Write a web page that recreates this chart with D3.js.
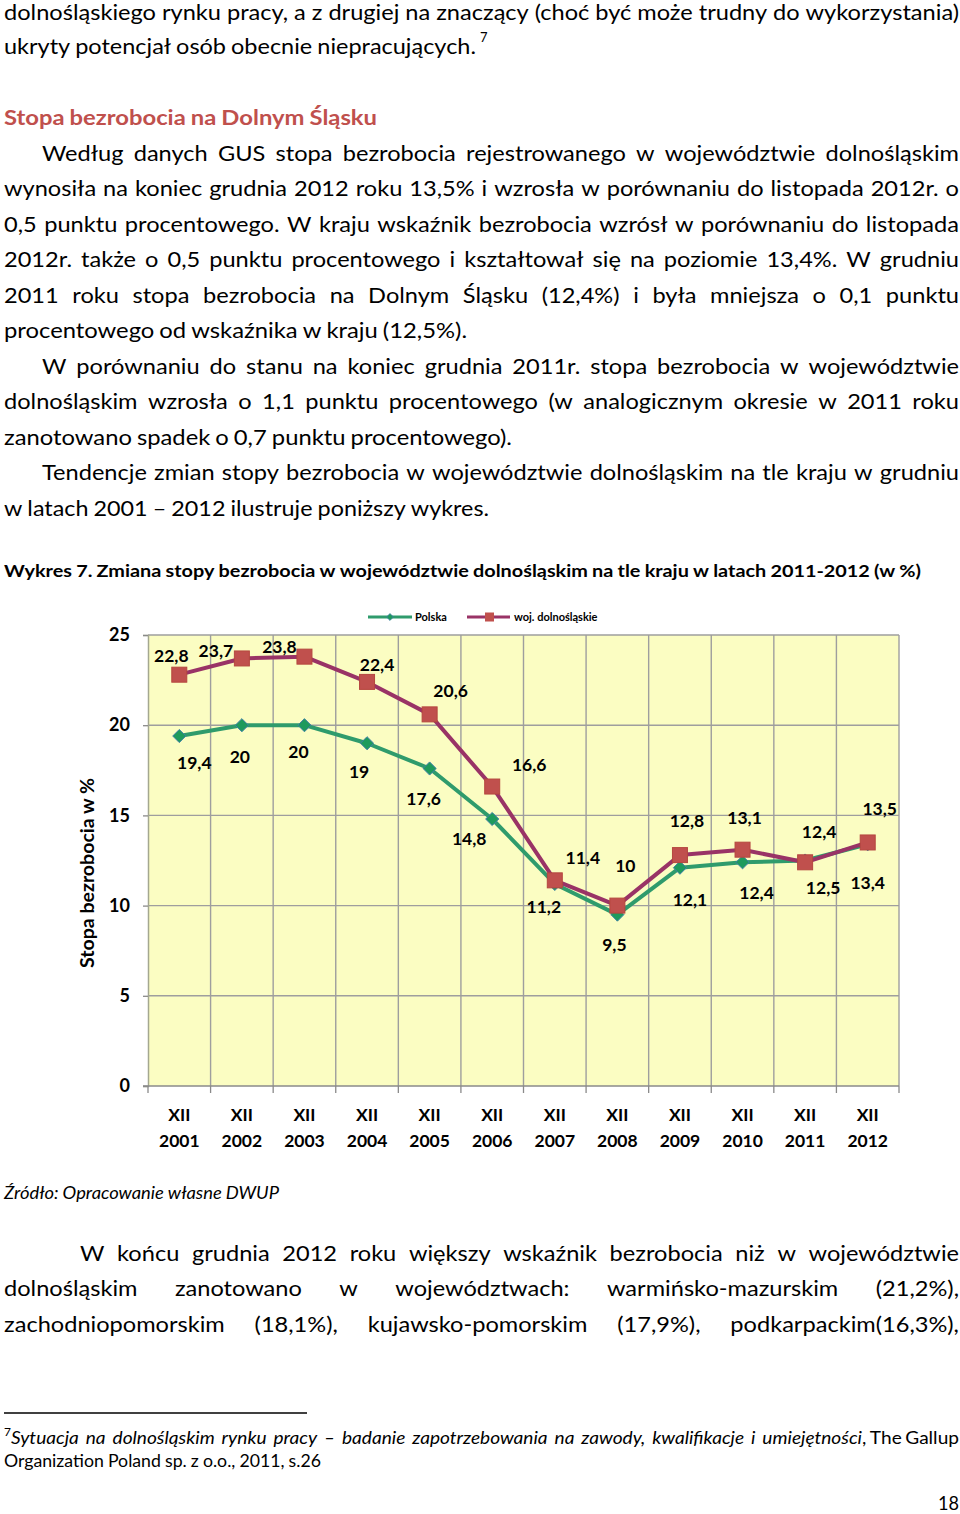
<!DOCTYPE html>
<html><head><meta charset="utf-8">
<script src="https://cdn.jsdelivr.net/npm/d3@7/dist/d3.min.js"></script>
<style>
html,body{margin:0;padding:0;background:#fff;}
svg{display:block;}
</style>
</head><body>
<svg id="page" width="960" height="1514"></svg>
<script>
// ---------------- DATA ----------------
const categories = ["XII 2001","XII 2002","XII 2003","XII 2004","XII 2005","XII 2006","XII 2007","XII 2008","XII 2009","XII 2010","XII 2011","XII 2012"];
const polska = [19.4, 20, 20, 19, 17.6, 14.8, 11.2, 9.5, 12.1, 12.4, 12.5, 13.4];
const dolnoslaskie = [22.8, 23.7, 23.8, 22.4, 20.6, 16.6, 11.4, 10, 12.8, 13.1, 12.4, 13.5];
const yTicks = [0, 5, 10, 15, 20, 25];
const seriesNames = ["Polska", "woj. dolnośląskie"];
const yAxisTitle = "Stopa bezrobocia w %";

// label placement (layout, offsets of label centre from its point)
const polskaLabelOffsets = [[15,27],[-2,32],[-6,27],[-8,29],[-6,30],[-23,20],[-11,23],[-3,30],[10,32],[14,31],[18,27],[0,39]];
const dolnyLabelOffsets = [[-8,-19],[-26,-8],[-25,-10],[10,-17],[21,-24],[37,-22],[28,-22],[8,-40],[7,-34],[2,-32],[14,-30],[12,-34]];

// ---------------- PAGE TEXT ----------------
const FONT = "Lato, 'Open Sans', 'DejaVu Sans', sans-serif";
const svg = d3.select("#page");
svg.append("rect").attr("width",960).attr("height",1514).attr("fill","#fff");
const textG = svg.append("g");

function mkText(w, y, o) {
  return textG.append("text")
    .attr("y", y).attr("font-family", FONT).attr("font-size", o.size || 21)
    .attr("font-weight", o.weight || "normal").attr("font-style", o.style || "normal")
    .attr("fill", o.fill || "#000").text(w);
}
function naturalRatio(str, width, o) {
  const words = str.split(" ").filter(w => w.length);
  const size = o.size || 21;
  const t = mkText("", -100, o);
  let sum = 0;
  words.forEach(w => { t.text(w); sum += t.node().getComputedTextLength(); });
  t.remove();
  return (width - (words.length - 1) * size * 0.24) / sum;
}
// horizontal stretch that makes this font match the original's word widths
const kGlobal = d3.mean([
  naturalRatio("ukryty potencjał osób obecnie niepracujących.", 472, {}),
  naturalRatio("procentowego od wskaźnika w kraju (12,5%).", 463, {}),
  naturalRatio("zanotowano spadek o 0,7 punktu procentowego).", 508, {}),
  naturalRatio("w latach 2001 – 2012 ilustruje poniższy wykres.", 485, {})
]);

function fitLine(str, x0, x1, y, opts = {}) {
  const size = opts.size || 21, last = !!opts.last;
  const words = str.split(" ").filter(w => w.length);
  const nodes = words.map(w => mkText(w, y, opts));
  const widths = nodes.map(n => n.node().getComputedTextLength());
  const sum = d3.sum(widths);
  const n = words.length;
  const total = x1 - x0;
  const spaceW = size * 0.24;
  let k, gap;
  if (last || n === 1) {
    k = (total - (n - 1) * spaceW) / sum;
    gap = spaceW;
  } else {
    const minGap = spaceW * 0.85;
    k = Math.min(kGlobal, (total - (n - 1) * minGap) / sum);
    gap = (total - sum * k) / (n - 1);
  }
  let x = x0;
  nodes.forEach((nd, i) => {
    nd.attr("x", x);
    if (Math.abs(k - 1) > 0.002) nd.attr("textLength", widths[i] * k).attr("lengthAdjust", "spacingAndGlyphs");
    x += widths[i] * k + gap;
  });
}

// top paragraph
fitLine("dolnośląskiego rynku pracy, a z drugiej na znaczący (choć być może trudny do wykorzystania)", 4, 959, 19.5);
fitLine("ukryty potencjał osób obecnie niepracujących.", 4, 476, 54, {last:true});
textG.append("text").attr("x", 480).attr("y", 42).attr("font-family", FONT).attr("font-size", 13).text("7");
fitLine("Stopa bezrobocia na Dolnym Śląsku", 4, 377, 125, {weight:"bold", fill:"#C0504D", last:true});

const lh = 35.5;
const para = [
  ["Według danych GUS stopa bezrobocia rejestrowanego w województwie dolnośląskim", 42, 959, false],
  ["wynosiła na koniec grudnia 2012 roku 13,5% i wzrosła w porównaniu do listopada 2012r. o", 4, 959, false],
  ["0,5 punktu procentowego. W kraju wskaźnik bezrobocia wzrósł w porównaniu do listopada", 4, 959, false],
  ["2012r. także o 0,5 punktu procentowego i kształtował się na poziomie 13,4%. W grudniu", 4, 959, false],
  ["2011 roku stopa bezrobocia na Dolnym Śląsku (12,4%) i była mniejsza o 0,1 punktu", 4, 959, false],
  ["procentowego od wskaźnika w kraju (12,5%).", 4, 467, true],
  ["W porównaniu do stanu na koniec grudnia 2011r. stopa bezrobocia w województwie", 42, 959, false],
  ["dolnośląskim wzrosła o 1,1 punktu procentowego (w analogicznym okresie w 2011 roku", 4, 959, false],
  ["zanotowano spadek o 0,7 punktu procentowego).", 4, 512, true],
  ["Tendencje zmian stopy bezrobocia w województwie dolnośląskim na tle kraju w grudniu", 42, 959, false],
  ["w latach 2001 – 2012 ilustruje poniższy wykres.", 4, 489, true]
];
para.forEach((p, i) => fitLine(p[0], p[1], p[2], 160.5 + i * lh, {last: p[3]}));

fitLine("Wykres 7. Zmiana stopy bezrobocia w województwie dolnośląskim na tle kraju w latach 2011-2012 (w %)", 4, 921, 577, {weight:"bold", size:17.5, last:true});

fitLine("Źródło: Opracowanie własne DWUP", 4, 279, 1199, {style:"italic", size:17, last:true});

fitLine("W końcu grudnia 2012 roku większy wskaźnik bezrobocia niż w województwie", 80, 959, 1261);
fitLine("dolnośląskim zanotowano w województwach: warmińsko-mazurskim (21,2%),", 4, 959, 1296);
fitLine("zachodniopomorskim (18,1%), kujawsko-pomorskim (17,9%), podkarpackim(16,3%),", 4, 959, 1332);

textG.append("line").attr("x1", 4).attr("x2", 307).attr("y1", 1413).attr("y2", 1413).attr("stroke", "#000").attr("stroke-width", 1.5);
textG.append("text").attr("x", 4).attr("y", 1436).attr("font-family", FONT).attr("font-size", 12).text("7");
fitLine("Sytuacja na dolnośląskim rynku pracy – badanie zapotrzebowania na zawody, kwalifikacje i umiejętności", 11, 862, 1444, {style:"italic", size:17});
fitLine(", The Gallup", 862, 959, 1444, {size:17});
fitLine("Organization Poland sp. z o.o., 2011, s.26", 4, 321, 1467, {size:17, last:true});
fitLine("18", 938, 959, 1510, {size:20, last:true});

// ---------------- CHART ----------------
const plot = {left:148, right:899, top:635, bottom:1086};
const x = d3.scaleBand().domain(categories).range([plot.left, plot.right]).padding(0);
const y = d3.scaleLinear().domain([0, 25]).range([plot.bottom, plot.top]);
const cx = d => x(d) + x.bandwidth() / 2;
const fmt = v => String(v).replace(".", ",");

const chart = svg.append("g");
chart.append("rect").attr("x", plot.left).attr("y", plot.top)
  .attr("width", plot.right - plot.left).attr("height", plot.bottom - plot.top).attr("fill", "#FBFDC2");

const gridColor = "#9E9E9E";
chart.append("g").selectAll("line").data(yTicks.filter(t => t > 0)).join("line")
  .attr("x1", plot.left).attr("x2", plot.right).attr("y1", d => y(d)).attr("y2", d => y(d))
  .attr("stroke", gridColor).attr("stroke-width", 1.4);
const bounds = d3.range(categories.length + 1).map(i => x.range()[0] + i * x.step());
chart.append("g").selectAll("line").data(bounds.slice(1)).join("line")
  .attr("x1", d => d).attr("x2", d => d).attr("y1", plot.top).attr("y2", plot.bottom)
  .attr("stroke", gridColor).attr("stroke-width", 1.4);

// y axis
const yAxis = chart.append("g").attr("transform", `translate(${plot.left},0)`)
  .call(d3.axisLeft(y).tickValues(yTicks).tickSize(5).tickPadding(13).tickFormat(d3.format("d")));
yAxis.select(".domain").attr("stroke", "#A4A890").attr("stroke-width", 1.5);
yAxis.selectAll(".tick line").attr("stroke", "#8A8A8A").attr("stroke-width", 1.3);
yAxis.selectAll(".tick text").attr("font-family", FONT).attr("font-size", 18).attr("font-weight", "bold").attr("fill", "#000");

// x axis baseline + ticks
chart.append("line").attr("x1", plot.left - 5).attr("x2", plot.right).attr("y1", plot.bottom).attr("y2", plot.bottom)
  .attr("stroke", "#8A8A8A").attr("stroke-width", 1.5);
chart.append("g").selectAll("line").data(bounds).join("line")
  .attr("x1", d => d).attr("x2", d => d).attr("y1", plot.bottom).attr("y2", plot.bottom + 7)
  .attr("stroke", "#8A8A8A").attr("stroke-width", 1.3);
const xl = chart.append("g").selectAll("text").data(categories).join("text")
  .attr("text-anchor", "middle").attr("font-family", FONT).attr("font-size", 17.5).attr("font-weight", "bold");
xl.append("tspan").attr("x", d => cx(d)).attr("y", 1121).text(d => d.split(" ")[0]);
xl.append("tspan").attr("x", d => cx(d)).attr("y", 1147).text(d => d.split(" ")[1]);

// y axis title
chart.append("text").attr("transform", "translate(94,873) rotate(-90)")
  .attr("text-anchor", "middle").attr("font-family", FONT).attr("font-size", 18).attr("font-weight", "bold")
  .attr("textLength", 190).attr("lengthAdjust", "spacingAndGlyphs")
  .text(yAxisTitle);

// series
const green = "#2F9B6C", maroon = "#993366";
const line = d3.line().x((d, i) => cx(categories[i])).y(d => y(d));
chart.append("path").datum(polska).attr("d", line).attr("fill", "none").attr("stroke", green).attr("stroke-width", 4).attr("stroke-linejoin", "round");
chart.append("g").selectAll("path").data(polska).join("path")
  .attr("d", d3.symbol().type(d3.symbolDiamond2).size(110))
  .attr("transform", (d, i) => `translate(${cx(categories[i])},${y(d)})`)
  .attr("fill", "#1E9A5C").attr("stroke", "#3F7FA8").attr("stroke-width", 1);

chart.append("path").datum(dolnoslaskie).attr("d", line).attr("fill", "none").attr("stroke", maroon).attr("stroke-width", 4).attr("stroke-linejoin", "round");
chart.append("g").selectAll("rect").data(dolnoslaskie).join("rect")
  .attr("x", (d, i) => cx(categories[i]) - 7.5).attr("y", d => y(d) - 7.5)
  .attr("width", 15).attr("height", 15)
  .attr("fill", "#C0504D").attr("stroke", "#B5473F").attr("stroke-width", 1);

// data labels
const lblStyle = s => s.attr("text-anchor", "middle").attr("dy", "0.35em").attr("font-family", FONT)
  .attr("font-size", 17.5).attr("font-weight", "bold").attr("fill", "#000");
chart.append("g").selectAll("text").data(polska).join("text")
  .attr("x", (d, i) => cx(categories[i]) + polskaLabelOffsets[i][0])
  .attr("y", (d, i) => y(d) + polskaLabelOffsets[i][1]).call(lblStyle).text(fmt);
chart.append("g").selectAll("text").data(dolnoslaskie).join("text")
  .attr("x", (d, i) => cx(categories[i]) + dolnyLabelOffsets[i][0])
  .attr("y", (d, i) => y(d) + dolnyLabelOffsets[i][1]).call(lblStyle).text(fmt);

// legend
const leg = chart.append("g");
const legY = 617;
leg.append("line").attr("x1", 368).attr("x2", 412).attr("y1", legY).attr("y2", legY).attr("stroke", green).attr("stroke-width", 3);
leg.append("path").attr("d", d3.symbol().type(d3.symbolDiamond2).size(30)).attr("transform", `translate(390,${legY})`)
  .attr("fill", "#1E9A5C").attr("stroke", "#3F7FA8").attr("stroke-width", 0.8);
leg.append("text").attr("x", 415).attr("y", legY).attr("dy", "0.35em").attr("font-family", FONT).attr("font-size", 11).attr("font-weight", "bold").text(seriesNames[0]);
leg.append("line").attr("x1", 467).attr("x2", 510).attr("y1", legY).attr("y2", legY).attr("stroke", maroon).attr("stroke-width", 3);
leg.append("rect").attr("x", 485).attr("y", legY - 4.5).attr("width", 9).attr("height", 9).attr("fill", "#C0504D");
leg.append("text").attr("x", 514).attr("y", legY).attr("dy", "0.35em").attr("font-family", FONT).attr("font-size", 11).attr("font-weight", "bold").text(seriesNames[1]);
</script>
</body></html>
